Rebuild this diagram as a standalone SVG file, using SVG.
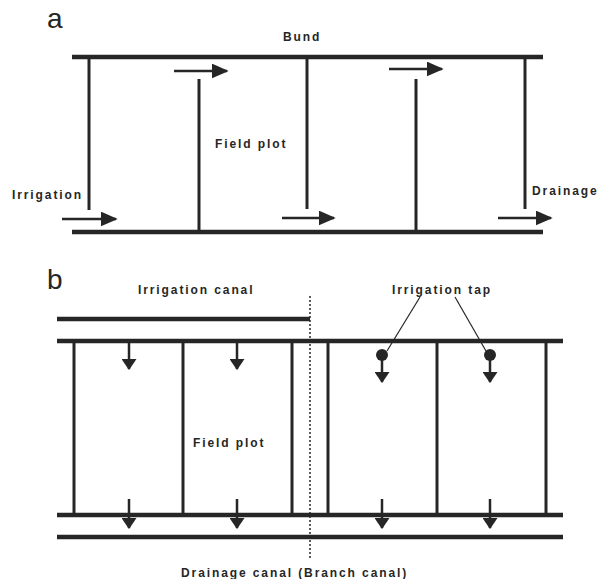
<svg xmlns="http://www.w3.org/2000/svg" width="601" height="579" viewBox="0 0 601 579">
<defs>
<marker id="ah" viewBox="0 0 10 10" refX="9" refY="5" markerWidth="17" markerHeight="15" markerUnits="userSpaceOnUse" orient="auto" preserveAspectRatio="none"><path d="M0,0 L10,5 L0,10 Z" fill="#262626"/></marker>
<marker id="ad" viewBox="0 0 10 10" refX="9" refY="5" markerWidth="11" markerHeight="15" markerUnits="userSpaceOnUse" orient="auto" preserveAspectRatio="none"><path d="M0,0 L10,5 L0,10 Z" fill="#262626"/></marker>
</defs>
<style>
.bund{stroke:#262626;stroke-width:4.5;fill:none}
.wall{stroke:#262626;stroke-width:3;fill:none}
.flow{stroke:#262626;stroke-width:2.5;fill:none;marker-end:url(#ah)}
.down{stroke:#262626;stroke-width:2.5;fill:none;marker-end:url(#ad)}
.lead{stroke:#262626;stroke-width:1.2;fill:none}
.dot{stroke:#262626;stroke-width:1.5;stroke-dasharray:2 2;fill:none}
text{font-family:"Liberation Sans",Arial,sans-serif;fill:#262626}
.lbl{font-size:12px;font-weight:bold;letter-spacing:1.9px}
.pan{font-size:28px}
</style>
<rect width="601" height="579" fill="#fff"/>
<g id="panel-a">
<text class="pan" x="47" y="28">a</text>
<g id="a-bund-top"><line class="bund" x1="72" y1="57" x2="543" y2="57"/></g>
<g id="a-bund-bottom"><line class="bund" x1="72" y1="232" x2="543" y2="232"/></g>
<g id="a-walls">
<line class="wall" x1="89" y1="57" x2="89" y2="210"/>
<line class="wall" x1="199" y1="79" x2="199" y2="232"/>
<line class="wall" x1="307" y1="57" x2="307" y2="209"/>
<line class="wall" x1="416" y1="79" x2="416" y2="232"/>
<line class="wall" x1="525" y1="57" x2="525" y2="209"/>
</g>
<g id="a-labels">
<text class="lbl" x="283" y="41">Bund</text>
<text class="lbl" x="12" y="199">Irrigation</text>
<text class="lbl" x="215" y="148">Field plot</text>
<text class="lbl" x="532" y="195">Drainage</text>
</g>
</g>
<g id="panel-b">
<text class="pan" x="47" y="289">b</text>
<g id="b-irrigation-canal"><line class="bund" x1="57" y1="319" x2="310" y2="319"/></g>
<g id="b-upper"><line class="bund" x1="57" y1="341" x2="563" y2="341"/></g>
<g id="b-lower"><line class="bund" x1="57" y1="515" x2="563" y2="515"/></g>
<g id="b-drainage-canal"><line class="bund" x1="57" y1="537" x2="563" y2="537"/></g>
<g id="b-divider"><line class="dot" x1="310" y1="296" x2="310" y2="558"/></g>
<g id="b-walls">
<line class="wall" x1="74" y1="341" x2="74" y2="515"/>
<line class="wall" x1="183" y1="341" x2="183" y2="515"/>
<line class="wall" x1="292" y1="341" x2="292" y2="515"/>
<line class="wall" x1="328" y1="341" x2="328" y2="515"/>
<line class="wall" x1="437" y1="341" x2="437" y2="515"/>
<line class="wall" x1="546" y1="341" x2="546" y2="515"/>
</g>
<g id="b-taps">
<circle cx="382" cy="355" r="6" fill="#262626"/>
<circle cx="490" cy="355" r="6" fill="#262626"/>
</g>
<g id="b-labels">
<text class="lbl" x="138" y="294">Irrigation canal</text>
<text class="lbl" x="392" y="294">Irrigation tap</text>
<text class="lbl" x="193" y="447">Field plot</text>
<text class="lbl" x="181" y="577">Drainage canal (Branch canal)</text>
</g>
</g>
<g id="connectors">
<line class="flow" x1="174" y1="71" x2="227" y2="71"/>
<line class="flow" x1="389" y1="69" x2="442" y2="69"/>
<line class="flow" x1="62" y1="219" x2="116" y2="219"/>
<line class="flow" x1="282" y1="218" x2="334" y2="218"/>
<line class="flow" x1="498" y1="218" x2="551" y2="218"/>
<line class="down" x1="129" y1="342" x2="129" y2="369"/>
<line class="down" x1="237" y1="342" x2="237" y2="369"/>
<line class="down" x1="382" y1="358" x2="382" y2="382"/>
<line class="down" x1="490" y1="358" x2="490" y2="382"/>
<line class="down" x1="129" y1="499" x2="129" y2="528"/>
<line class="down" x1="237" y1="499" x2="237" y2="528"/>
<line class="down" x1="382" y1="499" x2="382" y2="528"/>
<line class="down" x1="490" y1="499" x2="490" y2="528"/>
<line class="lead" x1="420" y1="297" x2="387" y2="351"/>
<line class="lead" x1="455" y1="297" x2="486" y2="351"/>
</g>
</svg>
